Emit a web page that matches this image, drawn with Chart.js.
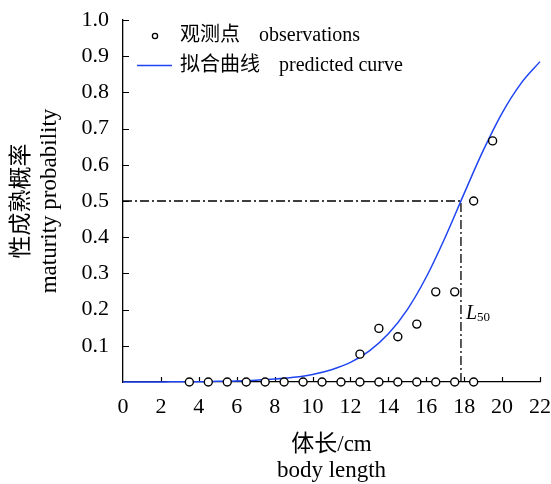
<!DOCTYPE html>
<html>
<head>
<meta charset="utf-8">
<script src="https://cdn.jsdelivr.net/npm/chart.js@4.4.1/dist/chart.umd.min.js"></script>
<style>
  html, body { margin: 0; padding: 0; background: #fff; }
</style>
</head>
<body>
<canvas id="chart" width="551" height="484"></canvas>
<script>
/* Data */
const obsX = [3.5, 4.5, 5.5, 6.5, 7.5, 8.5, 9.5, 10.5, 11.5, 12.5, 13.5, 14.5, 15.5, 16.5, 17.5, 18.5,
              12.5, 13.5, 14.5, 15.5, 16.5, 17.5, 18.5, 19.5];
const obsY = [0, 0, 0, 0, 0, 0, 0, 0, 0, 0, 0, 0, 0, 0, 0, 0,
              0.077, 0.148, 0.125, 0.16, 0.249, 0.249, 0.5, 0.666];

const curveX = [0, 1, 2, 3, 4, 5, 6, 7, 8, 9, 10, 11, 12, 13, 14, 15, 16, 17, 18, 19, 20, 21, 22];
const curveY = [0.000, 0.000, 0.000, 0.001, 0.001, 0.002, 0.003, 0.005, 0.008, 0.013, 0.021, 0.034,
                0.054, 0.086, 0.133, 0.200, 0.290, 0.400, 0.521, 0.639, 0.743, 0.825, 0.885];

const L50 = 17.83;
const halfProb = 0.5;

const xTicks = [0, 2, 4, 6, 8, 10, 12, 14, 16, 18, 20, 22];
const yTicks = [0.1, 0.2, 0.3, 0.4, 0.5, 0.6, 0.7, 0.8, 0.9, 1.0];

const legendZh = ["观测点", "拟合曲线"];
const legendEn = ["observations", "predicted curve"];
const xTitle = ["体长/cm", "body length"];
const yTitle = ["性成熟概率", "maturity probability"];

/* Utils */
const FAMILY = '"Liberation Serif", "Noto Sans CJK SC", serif';
const BLUE = "#1f45f2";
const pts = (xs, ys) => xs.map((x, i) => ({ x, y: ys[i] }));

/* Inward ticks, legend, L50 label */
const extras = {
    id: "extras",
    beforeDatasetsDraw(chart) {
        const { ctx, scales: { x, y } } = chart;
        ctx.save();
        ctx.strokeStyle = "#000";
        ctx.lineWidth = 1.2;
        ctx.beginPath();
        xTicks.filter(v => v > 0).forEach(v => {
            const px = Math.round(x.getPixelForValue(v)) + 0.5;
            ctx.moveTo(px, y.bottom);
            ctx.lineTo(px, y.bottom - 5);
        });
        yTicks.forEach(v => {
            const py = Math.round(y.getPixelForValue(v)) + 0.5;
            ctx.moveTo(x.left, py);
            ctx.lineTo(x.left + 6, py);
        });
        ctx.stroke();
        ctx.restore();
    },
    afterDatasetsDraw(chart) {
        const { ctx, scales: { x, y } } = chart;
        ctx.save();
        ctx.fillStyle = "#000";
        ctx.textBaseline = "middle";
        ctx.font = "20px " + FAMILY;

        // legend row 1: small circle
        ctx.beginPath();
        ctx.arc(155, 36, 2.6, 0, Math.PI * 2);
        ctx.lineWidth = 1.3;
        ctx.strokeStyle = "#000";
        ctx.stroke();
        ctx.fillText(legendZh[0], 180, 36);
        ctx.fillText(legendEn[0], 259, 36);

        // legend row 2: blue line
        ctx.beginPath();
        ctx.moveTo(137, 65.5);
        ctx.lineTo(172, 65.5);
        ctx.strokeStyle = BLUE;
        ctx.lineWidth = 1.4;
        ctx.stroke();
        ctx.fillText(legendZh[1], 180, 66);
        ctx.fillText(legendEn[1], 279, 66);

        // L50 label
        const lx = x.getPixelForValue(L50) + 5;
        const ly = y.getPixelForValue(0.2);
        ctx.textBaseline = "alphabetic";
        ctx.font = "italic 20px " + FAMILY;
        ctx.fillText("L", lx, ly + 9);
        const lw = ctx.measureText("L").width;
        ctx.font = "13px " + FAMILY;
        ctx.fillText("50", lx + lw, ly + 11);
        ctx.restore();
    }
};

new Chart(document.getElementById("chart"), {
    type: "scatter",
    data: {
        datasets: [
            {
                label: legendEn[0],
                data: pts(obsX, obsY),
                showLine: false,
                pointRadius: 4,
                pointBorderWidth: 1.4,
                pointBorderColor: "#000",
                pointBackgroundColor: "#fff",
                clip: false
            },
            {
                label: legendEn[1],
                data: pts(curveX, curveY),
                showLine: true,
                borderColor: BLUE,
                borderWidth: 1.5,
                pointRadius: 0,
                cubicInterpolationMode: "monotone",
                clip: false
            },
            {
                label: "L50",
                data: [{ x: 0, y: halfProb }, { x: L50, y: halfProb }, { x: L50, y: 0 }],
                showLine: true,
                borderColor: "#000",
                borderWidth: 1.3,
                borderDash: [9, 3, 2, 3],
                pointRadius: 0,
                clip: false
            }
        ]
    },
    options: {
        responsive: false,
        animation: false,
        layout: { padding: { left: 0, top: 20, right: 11, bottom: 0 } },
        plugins: { legend: { display: false }, tooltip: { enabled: false } },
        scales: {
            x: {
                type: "linear",
                min: 0,
                max: 22,
                afterBuildTicks: s => { s.ticks = xTicks.map(v => ({ value: v })); },
                ticks: {
                    color: "#000",
                    font: { family: FAMILY, size: 22 },
                    padding: 12,
                    maxRotation: 0
                },
                grid: { display: false, drawTicks: false },
                border: { display: true, color: "#000", width: 1.3 },
                title: {
                    display: true,
                    text: xTitle,
                    color: "#000",
                    font: { family: FAMILY, size: 23, lineHeight: 1.13 },
                    padding: { top: 0, bottom: 0 }
                },
                afterFit: s => {
                    s.height = 102;
                    s.paddingLeft = 0; s.paddingRight = 0;
                    s.paddingTop = 0; s.paddingBottom = 0;
                }
            },
            y: {
                type: "linear",
                min: 0,
                max: 1,
                afterBuildTicks: s => { s.ticks = [0].concat(yTicks).map(v => ({ value: v })); },
                ticks: {
                    color: "#000",
                    font: { family: FAMILY, size: 22 },
                    padding: 14,
                    callback: v => v === 0 ? "" : v.toFixed(1)
                },
                grid: { display: false, drawTicks: false },
                border: { display: true, color: "#000", width: 1.3 },
                title: {
                    display: true,
                    text: yTitle,
                    color: "#000",
                    font: { family: FAMILY, size: 23, lineHeight: 1.22 },
                    padding: { top: 8, bottom: 0 }
                },
                afterFit: s => {
                    s.width = 123;
                    s.paddingLeft = 0; s.paddingRight = 0;
                    s.paddingTop = 0; s.paddingBottom = 0;
                }
            }
        }
    },
    plugins: [extras]
});
</script>
</body>
</html>
